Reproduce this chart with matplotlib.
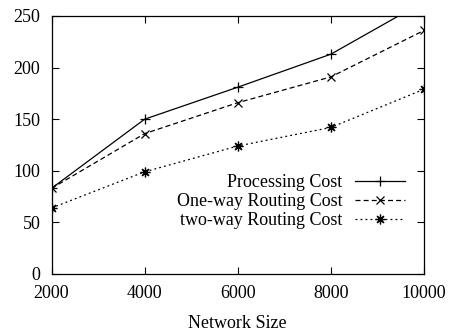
import matplotlib
matplotlib.use("Agg")
import matplotlib.pyplot as plt

# 数据
network_size = [2000, 4000, 6000, 8000, 10000]
processing_cost = [83, 150, 181, 213, 264]
one_way_cost = [83, 136, 166, 191, 236]
two_way_cost = [64, 99, 124, 142, 179]

plt.rcParams["font.family"] = ["Liberation Serif", "DejaVu Serif"]
plt.rcParams["font.size"] = 13

fig = plt.figure(figsize=(4.49, 3.31), dpi=100)
ax = fig.add_axes([51.5 / 449, 1 - 274 / 331, (424 - 51.5) / 449, (274 - 16) / 331])

ax.plot(network_size, processing_cost, color="black", lw=0.9, marker="+",
        markersize=7, mew=0.9, label="Processing Cost")
ax.plot(network_size, one_way_cost, color="black", lw=0.9, ls=(0, (4, 2.5)),
        marker="x", markersize=5.5, mew=0.9, label="One-way Routing Cost")
ax.plot(network_size, two_way_cost, color="black", lw=0.9, ls=(0, (1.5, 2.5)),
        marker=(8, 2, 0), markersize=7, mew=0.9, label="two-way Routing Cost")

ax.set_xlim(2000, 10000)
ax.set_ylim(0, 250)
ax.set_xticks(network_size)
ax.set_yticks(range(0, 251, 50))
ax.tick_params(direction="in", top=True, right=True, length=5, width=0.8,
               labelsize=13)
ax.tick_params(axis="y", pad=8)
ax.tick_params(axis="x", pad=8)
for s in ax.spines.values():
    s.set_linewidth(0.9)
ax.set_xlabel("Network Size", labelpad=9, fontsize=13)

ax.legend(loc="center right", bbox_to_anchor=(0.973, 0.28), frameon=False,
          markerfirst=False, handlelength=2.75, labelspacing=0.1,
          handletextpad=0.72, borderpad=0, fontsize=13)

fig.savefig("out.png", dpi=100)
